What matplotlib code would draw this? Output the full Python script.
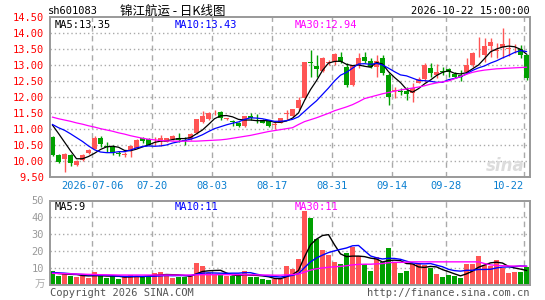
import matplotlib
matplotlib.use("Agg")
import matplotlib.pyplot as plt
import numpy as np

plt.rcParams["font.family"] = ["DejaVu Sans Mono", "Noto Sans CJK SC"]

# daily bars, 2026-06-25 .. 2026-10-22 (80 trading days)
opens = [10.77, 10.21, 10.08, 10.20, 9.89, 10.04, 10.26, 10.39, 10.74, 10.49,
         10.46, 10.26, 10.21, 10.36, 10.43, 10.72, 10.70, 10.62, 10.64, 10.61,
         10.70, 10.74, 10.65, 10.69, 10.87, 11.24, 11.31, 11.53, 11.53, 11.33,
         11.24, 11.20, 11.10, 11.42, 11.28, 11.29, 11.26, 11.15, 11.21, 11.47,
         11.42, 11.66, 11.97, 13.09, 12.98, 12.83, 13.07, 13.11, 13.27, 12.96,
         12.38, 13.01, 13.27, 13.13, 12.94, 13.22, 12.70, 12.19, 12.17, 12.21,
         12.12, 12.46, 12.57, 12.93, 12.70, 12.82, 12.88, 12.73, 12.70, 12.80,
         13.01, 13.37, 13.32, 13.60, 13.45, 13.58, 13.52, 13.50, 13.51, 13.32]
highs = [10.80, 10.23, 10.26, 10.22, 10.05, 10.22, 10.40, 10.80, 10.78, 10.61,
         10.50, 10.32, 10.30, 10.50, 10.70, 10.76, 10.72, 10.77, 10.82, 10.74,
         10.82, 10.87, 10.77, 10.87, 11.33, 11.57, 11.55, 11.60, 11.57, 11.36,
         11.29, 11.24, 11.43, 11.52, 11.48, 11.33, 11.28, 11.24, 11.36, 11.60,
         11.65, 12.02, 13.11, 13.48, 13.32, 13.27, 13.17, 13.39, 13.43, 13.06,
         13.01, 13.38, 13.43, 13.22, 13.31, 13.32, 12.75, 12.31, 12.28, 12.33,
         12.44, 12.62, 13.06, 13.06, 13.03, 12.96, 12.93, 12.80, 12.85, 13.24,
         13.41, 13.89, 13.84, 13.86, 13.69, 14.18, 13.84, 13.66, 13.63, 13.36]
lows = [10.18, 9.96, 9.67, 9.86, 9.84, 10.00, 10.24, 10.37, 10.45, 10.30,
        10.20, 10.16, 10.15, 10.15, 10.42, 10.58, 10.50, 10.51, 10.48, 10.60,
        10.68, 10.61, 10.51, 10.67, 10.85, 11.19, 11.28, 11.45, 11.30, 11.30,
        11.10, 11.08, 11.08, 11.29, 11.20, 11.19, 11.08, 11.00, 11.19, 11.29,
        11.40, 11.60, 11.95, 12.63, 12.63, 12.80, 13.01, 13.01, 13.06, 12.33,
        12.36, 12.91, 13.06, 12.91, 12.64, 12.70, 11.76, 11.97, 12.07, 11.92,
        11.86, 12.44, 12.49, 12.64, 12.59, 12.70, 12.64, 12.59, 12.51, 12.75,
        12.96, 13.25, 13.11, 13.27, 13.24, 13.22, 13.30, 13.38, 13.24, 12.54]
closes = [10.20, 9.98, 10.23, 9.96, 10.02, 10.20, 10.35, 10.74, 10.53, 10.44,
          10.27, 10.24, 10.23, 10.49, 10.67, 10.63, 10.51, 10.64, 10.72, 10.72,
          10.80, 10.67, 10.64, 10.85, 11.32, 11.42, 11.50, 11.54, 11.34, 11.34,
          11.23, 11.11, 11.42, 11.34, 11.27, 11.21, 11.10, 11.17, 11.34, 11.49,
          11.63, 11.92, 13.11, 13.07, 12.88, 13.22, 13.09, 13.34, 13.11, 12.38,
          13.01, 13.22, 13.13, 12.96, 13.14, 12.75, 12.02, 12.23, 12.16, 12.10,
          12.28, 12.56, 13.01, 12.77, 12.78, 12.78, 12.80, 12.62, 12.65, 13.01,
          13.38, 13.39, 13.60, 13.72, 13.47, 13.67, 13.54, 13.52, 13.32, 12.61]

ma5 = [11.13, 10.87, 10.60, 10.33, 10.08, 10.08, 10.15, 10.25, 10.37, 10.45,
       10.47, 10.44, 10.34, 10.33, 10.38, 10.45, 10.51, 10.59, 10.63, 10.64,
       10.68, 10.71, 10.71, 10.74, 10.86, 10.98, 11.15, 11.33, 11.42, 11.43,
       11.39, 11.31, 11.29, 11.29, 11.27, 11.27, 11.27, 11.22, 11.22, 11.26,
       11.35, 11.51, 11.90, 12.24, 12.52, 12.84, 13.07, 13.12, 13.13, 13.03,
       12.99, 13.01, 12.97, 12.94, 13.09, 13.04, 12.80, 12.62, 12.46, 12.25,
       12.16, 12.27, 12.42, 12.54, 12.68, 12.78, 12.83, 12.75, 12.73, 12.77,
       12.89, 13.01, 13.21, 13.42, 13.51, 13.57, 13.60, 13.58, 13.50, 13.35]
ma10 = [11.15, 11.05, 10.97, 10.86, 10.74, 10.62, 10.48, 10.36, 10.29, 10.27,
        10.27, 10.30, 10.30, 10.35, 10.42, 10.46, 10.48, 10.47, 10.48, 10.51,
        10.57, 10.61, 10.65, 10.69, 10.75, 10.83, 10.93, 11.02, 11.08, 11.14,
        11.19, 11.23, 11.31, 11.36, 11.35, 11.33, 11.29, 11.25, 11.25, 11.27,
        11.31, 11.39, 11.56, 11.73, 11.89, 12.09, 12.29, 12.51, 12.69, 12.78,
        12.91, 13.04, 13.05, 13.03, 13.06, 13.01, 12.91, 12.80, 12.70, 12.67,
        12.60, 12.53, 12.52, 12.50, 12.47, 12.47, 12.55, 12.59, 12.64, 12.73,
        12.84, 12.92, 12.98, 13.07, 13.14, 13.23, 13.31, 13.40, 13.46, 13.43]
ma30 = [11.38, 11.33, 11.29, 11.25, 11.20, 11.16, 11.11, 11.07, 11.02, 10.98,
        10.94, 10.89, 10.85, 10.80, 10.76, 10.72, 10.69, 10.67, 10.65, 10.64,
        10.63, 10.63, 10.63, 10.63, 10.63, 10.64, 10.65, 10.66, 10.67, 10.69,
        10.72, 10.75, 10.78, 10.81, 10.85, 10.89, 10.93, 10.96, 10.99, 11.02,
        11.05, 11.15, 11.24, 11.30, 11.36, 11.43, 11.50, 11.58, 11.64, 11.70,
        11.77, 11.86, 11.96, 12.01, 12.06, 12.11, 12.15, 12.19, 12.23, 12.26,
        12.29, 12.32, 12.36, 12.41, 12.45, 12.48, 12.51, 12.58, 12.65, 12.72,
        12.78, 12.82, 12.85, 12.87, 12.89, 12.90, 12.91, 12.92, 12.93, 12.94]

# volume, 10k lots
volumes = [8.2, 5.5, 6.9, 5.5, 4.9, 5.3, 4.3, 7.5, 5.3, 4.3,
           5.3, 3.5, 4.9, 5.9, 5.3, 4.9, 5.3, 6.9, 7.5, 6.3,
           4.3, 4.9, 4.9, 5.5, 13.3, 11.2, 6.9, 5.9, 6.3, 5.3,
           5.3, 5.3, 8.2, 4.9, 4.9, 3.5, 2.9, 3.5, 3.5, 11.2,
           9.4, 15.3, 43.5, 39.6, 27.5, 20.6, 17.6, 13.7, 12.7, 19.2,
           22.5, 17.3, 12.2, 8.2, 16.7, 13.7, 21.6, 13.3, 6.9, 8.2,
           12.7, 12.2, 11.8, 10.2, 6.5, 4.9, 5.9, 5.3, 4.3, 12.7,
           12.7, 17.3, 11.8, 11.2, 14.7, 10.2, 6.9, 7.5, 7.5, 10.8]
vma5 = [7.2, 6.8, 6.5, 6.3, 6.2, 5.6, 5.4, 5.5, 5.5, 5.3,
        5.3, 5.2, 4.7, 4.8, 5.0, 4.9, 5.3, 5.7, 6.0, 6.2,
        6.1, 6.0, 5.6, 5.2, 6.6, 8.0, 8.4, 8.6, 8.7, 7.1,
        5.9, 5.6, 6.1, 5.8, 5.7, 5.4, 4.9, 3.9, 3.7, 4.9,
        6.1, 8.6, 16.6, 23.8, 27.1, 29.3, 29.8, 23.8, 18.4, 16.8,
        17.1, 17.1, 16.8, 15.9, 15.4, 13.6, 14.5, 14.7, 14.4, 12.7,
        12.5, 10.7, 10.4, 11.0, 10.7, 9.1, 7.9, 6.6, 5.4, 6.6,
        8.2, 10.5, 11.8, 13.1, 13.5, 13.0, 11.0, 10.1, 9.4, 8.6]
vma10 = [7.4, 7.2, 7.0, 6.7, 6.4, 6.2, 6.0, 5.9, 5.8, 5.8,
         5.5, 5.3, 5.1, 5.1, 5.2, 5.1, 5.2, 5.2, 5.4, 5.6,
         5.5, 5.6, 5.6, 5.6, 6.4, 7.0, 7.2, 7.1, 7.0, 6.9,
         7.0, 7.0, 7.3, 7.3, 6.4, 5.7, 5.3, 5.0, 4.7, 5.3,
         5.7, 6.7, 10.3, 13.7, 16.0, 17.7, 19.2, 20.2, 21.1, 21.9,
         23.2, 23.4, 20.3, 17.2, 16.1, 15.4, 15.8, 15.7, 15.2, 14.1,
         13.1, 12.6, 12.5, 12.7, 11.7, 10.8, 9.3, 8.5, 8.2, 8.7,
         8.7, 9.2, 9.2, 9.3, 10.1, 10.6, 10.7, 10.9, 11.3, 11.1]
vma30 = [6.9, 6.8, 6.7, 6.6, 6.5, 6.4, 6.3, 6.2, 6.1, 6.0,
         6.0, 5.9, 5.9, 5.9, 5.9, 5.9, 5.9, 5.9, 5.9, 5.9,
         5.9, 5.9, 5.9, 5.9, 6.0, 6.1, 6.1, 6.1, 6.1, 6.1,
         6.1, 6.1, 6.1, 6.0, 6.0, 5.9, 5.9, 5.8, 5.8, 6.0,
         6.2, 6.5, 7.6, 8.8, 9.6, 10.1, 10.5, 10.8, 11.0, 11.4,
         11.9, 12.2, 12.3, 12.3, 12.5, 12.7, 13.2, 13.4, 13.4, 13.5,
         13.7, 13.7, 13.7, 13.7, 13.7, 13.7, 13.7, 13.7, 13.7, 13.7,
         13.7, 13.7, 12.7, 11.9, 11.6, 11.4, 11.3, 11.2, 11.2, 11.1]

tick_idx = [7, 17, 27, 37, 47, 57, 66, 79]
tick_labels = ["2026-07-06", "07-20", "08-03", "08-17", "08-31", "09-14", "09-28", "10-22"]
price_ticks = [9.5, 10.0, 10.5, 11.0, 11.5, 12.0, 12.5, 13.0, 13.5, 14.0, 14.5]
vol_ticks = [10, 20, 30, 40, 50]

RED = "#ff5555"
GREEN = "#00a000"
FRAME = "#999999"
W, H = 545, 300


def px(x, y):
    return x / W, 1 - y / H


x = np.arange(len(closes))
o = np.array(opens)
c = np.array(closes)
colors = [RED if cc >= oo else GREEN for oo, cc in zip(o, c)]
grid_x = np.array(tick_idx) - 0.35

fig = plt.figure(figsize=(5.45, 3.0), dpi=100)
ax = fig.add_axes([49.5 / W, 1 - 177.3 / H, 480 / W, 160 / H])
axv = fig.add_axes([49.5 / W, 1 - 285 / H, 480 / W, 84.5 / H])

# candles
ax.vlines(x, lows, highs, color=colors, linewidth=1)
body_h = np.maximum(np.abs(c - o), 0.025)
ax.bar(x, body_h, bottom=np.minimum(o, c), width=0.84, color=colors, linewidth=0)
ax.plot(x, ma5, color="black", lw=0.9)
ax.plot(x, ma10, color="#0000ff", lw=0.9)
ax.plot(x, ma30, color="#ff00ff", lw=0.9)

# volume
axv.bar(x, volumes, width=0.84, color=colors, linewidth=0)
axv.plot(x, vma5, color="black", lw=1.0)
axv.plot(x, vma10, color="#0000ff", lw=1.0)
axv.plot(x, vma30, color="#ff00ff", lw=1.0)

for a, hlines in ((ax, price_ticks[1:-1]), (axv, vol_ticks[:-1])):
    a.set_xlim(-0.5, 79.5)
    for t in hlines:
        a.axhline(t, color="#aaaaaa", lw=1, ls=(0, (1, 2)), zorder=0)
    for gx in grid_x:
        a.axvline(gx, color="#aaaaaa", lw=1, ls=(0, (4, 3)), zorder=0)
    for s in a.spines.values():
        s.set_color(FRAME)
        s.set_linewidth(1.4)
    a.tick_params(length=0, pad=4, labelsize=7.5)

ax.set_ylim(9.5, 14.5)
axv.set_ylim(0, 50)

ax.set_yticks(price_ticks)
ax.set_yticklabels([f"{t:.2f}" for t in price_ticks], color="#ff0000")
ax.set_xticks(grid_x)
ax.set_xticklabels(tick_labels, color="#0a7fd0")
ax.get_xticklabels()[-1].set_horizontalalignment("right")
ax.tick_params(axis="x", pad=3)

axv.set_yticks(vol_ticks)
axv.set_yticklabels([str(t) for t in vol_ticks], color="#999999")
axv.set_xticks([])

# header
fig.text(*px(48, 11), "sh601083", fontsize=7.5, va="center", ha="left")
fig.text(*px(120, 11), "锦江航运 - 日K线图", fontsize=9, va="center", ha="left",
         family=["Noto Sans CJK SC", "DejaVu Sans"])
fig.text(*px(530, 11), "2026-10-22 15:00:00", fontsize=7.5, va="center", ha="right")

# MA legends
for (lx, txt, col) in ((55, "MA5:13.35", "black"), (175, "MA10:13.43", "#0000ff"),
                       (295, "MA30:12.94", "#ff00ff")):
    fig.text(*px(lx, 24.5), txt, fontsize=7.5, va="center", ha="left", color=col)
for (lx, txt, col) in ((55, "MA5:9", "black"), (175, "MA10:11", "#0000ff"),
                       (295, "MA30:11", "#ff00ff")):
    fig.text(*px(lx, 207.5), txt, fontsize=7.5, va="center", ha="left", color=col)

fig.text(*px(45, 285), "万", fontsize=7.5, va="center", ha="right", color="#aaaaaa",
         family=["Noto Sans CJK SC", "DejaVu Sans"])
fig.text(*px(50, 293), "Copyright 2026 SINA.COM", fontsize=7.5, va="center",
         ha="left", color="#555555")
fig.text(*px(530, 293), "http://finance.sina.com.cn", fontsize=7.5, va="center",
         ha="right", color="#555555")

# watermark
fig.text(*px(505, 166), "sina", fontsize=12, fontweight="bold", style="italic",
         color="#dcdcdc", ha="center", va="center", family="DejaVu Sans")

fig.savefig("out.png", dpi=100)
